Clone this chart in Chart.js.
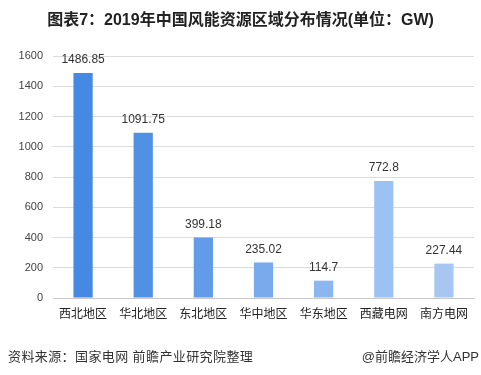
<!DOCTYPE html>
<html>
<head>
<meta charset="utf-8">
<script src="https://cdn.jsdelivr.net/npm/chart.js@4/dist/chart.umd.min.js"></script>
<style>
    body { margin: 0; background: #fff; }
    #caja { position: relative; width: 481px; height: 375px; font-family: "Liberation Sans", Arial, "Noto Sans CJK SC", sans-serif; }
    #titulo { position: absolute; top: 6px; left: 0; width: 481px; text-align: center; font-size: 16px; font-weight: bold; color: #222; }
    #fuente { position: absolute; top: 346px; left: 8px; font-size: 13px; color: #333; letter-spacing: 0.4px; }
    #marca { position: absolute; top: 346px; right: 2px; font-size: 13px; color: #333; }
    #lienzo { position: absolute; top: 0; left: 0; }
</style>
</head>
<body>
<div id="caja">
    <canvas id="miGrafica" width="481" height="375"></canvas>
    <div id="titulo">图表7：2019年中国风能资源区域分布情况(单位：GW)</div>
    <div id="fuente">资料来源：国家电网 前瞻产业研究院整理</div>
    <div id="marca">@前瞻经济学人APP</div>
</div>
<script>
// categorias y valores (GW)
const regiones = ['西北地区', '华北地区', '东北地区', '华中地区', '华东地区', '西藏电网', '南方电网'];
const valores = [1486.85, 1091.75, 399.18, 235.02, 114.7, 772.8, 227.44];
const etiquetas = ['1486.85', '1091.75', '399.18', '235.02', '114.7', '772.8', '227.44'];
const colores = ['#4689E2', '#5091E4', '#629BE8', '#79AAEC', '#8BB6EF', '#9CC1F3', '#A7C7F2'];

// Etiquetas encima de cada barra
const etiquetasPlugin = {
    id: 'etiquetas',
    afterDatasetsDraw(chart) {
        const ctx = chart.ctx;
        const meta = chart.getDatasetMeta(0);
        ctx.save();
        ctx.font = '12px "Liberation Sans", Arial, sans-serif';
        ctx.fillStyle = '#333';
        ctx.textAlign = 'center';
        ctx.textBaseline = 'middle';
        meta.data.forEach((bar, i) => {
            ctx.fillText(etiquetas[i], bar.x, bar.y - 13);
        });
        ctx.restore();
    }
};

const ctx = document.getElementById('miGrafica').getContext('2d');

window.myChart = new Chart(ctx, {
    type: 'bar',
    data: {
        labels: regiones,
        datasets: [{
            data: valores,
            backgroundColor: colores,
            barPercentage: 0.32,
            categoryPercentage: 1.0,
        }],
    },
    options: {
        responsive: false,
        animation: false,
        layout: { padding: { left: 0, right: 7, top: 56, bottom: 47 } },
        plugins: {
            legend: { display: false },
            tooltip: { enabled: false },
        },
        scales: {
            x: {
                grid: { display: false, drawTicks: false },
                border: { color: '#c8c8c8' },
                ticks: {
                    color: '#222',
                    padding: 8,
                    font: { size: 12, family: '"Noto Sans CJK SC", sans-serif' },
                },
                afterFit: (scale) => { scale.height = 30; },
            },
            y: {
                min: 0,
                max: 1600,
                ticks: {
                    stepSize: 200,
                    color: '#444',
                    padding: 10,
                    font: { size: 11, family: '"Liberation Sans", Arial, sans-serif' },
                    callback: (v) => String(v),
                },
                grid: { color: '#dcdcdc', drawTicks: false },
                border: { display: false },
                afterFit: (scale) => { scale.width = 53; },
            },
        },
    },
    plugins: [etiquetasPlugin],
});
</script>
</body>
</html>
